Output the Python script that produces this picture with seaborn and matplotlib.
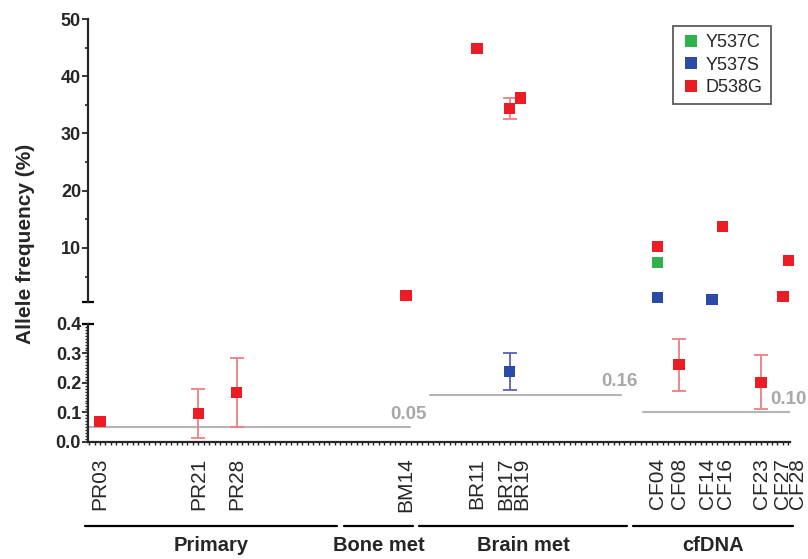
import numpy as np
import pandas as pd
import seaborn as sns
import matplotlib.pyplot as plt
import matplotlib.transforms as mtransforms

# sample labels and where each group starts on the x axis
samples = ["PR03", "PR21", "PR28", "BM14", "BR11", "BR17", "BR19",
           "CF04", "CF08", "CF14", "CF16", "CF23", "CF27", "CF28"]
sample_group = ["Primary", "Primary", "Primary", "Bone met", "Brain met", "Brain met", "Brain met",
                "cfDNA", "cfDNA", "cfDNA", "cfDNA", "cfDNA", "cfDNA", "cfDNA"]
group_names = ["Primary", "Bone met", "Brain met", "cfDNA"]
group_offset = [0, 45, 61, 101]
group_span = [(0.2, 46.4), (47.7, 60.3), (61.4, 99.5), (100.6, 129.9)]

# detection limits (value, x from, x to)
lod_value = [0.05, 0.16, 0.10]
lod_label = ["0.05", "0.16", "0.10"]
lod_from = [0.8, 63.4, 102.4]
lod_to = [59.8, 98.4, 129.3]

# measured points
pt_sample = ["PR03", "PR21", "PR28", "BM14", "BR11", "BR17", "BR19", "BR17",
             "CF04", "CF04", "CF04", "CF08", "CF14", "CF16", "CF23", "CF27", "CF28"]
pt_mut = ["D538G", "D538G", "D538G", "D538G", "D538G", "D538G", "D538G", "Y537S",
          "D538G", "Y537C", "Y537S", "D538G", "Y537S", "D538G", "D538G", "D538G", "D538G"]
pt_value = [0.068, 0.097, 0.167, 1.7, 44.9, 34.4, 36.2, 0.238,
            10.2, 7.5, 1.3, 0.263, 1.0, 13.8, 0.202, 1.55, 7.85]
pt_low = [np.nan, 0.012, 0.05, np.nan, np.nan, 32.6, np.nan, 0.176,
          np.nan, np.nan, np.nan, 0.173, np.nan, np.nan, 0.11, np.nan, np.nan]
pt_high = [np.nan, 0.18, 0.284, np.nan, np.nan, 36.2, np.nan, 0.303,
           np.nan, np.nan, np.nan, 0.349, np.nan, np.nan, 0.295, np.nan, np.nan]

mut_order = ["Y537C", "Y537S", "D538G"]
mut_colors = {"Y537C": "#2db34a", "Y537S": "#2b4aa6", "D538G": "#ec1c24"}
err_colors = {"Y537C": "#7ccf8c", "Y537S": "#5a5fb5", "D538G": "#ee7f83"}

sns.set_style("ticks")
plt.rcParams['font.family'] = ['Liberation Sans', 'DejaVu Sans']

offset_of = dict(zip(group_names, group_offset))
sample_pos = {s: offset_of[g] + int(s[2:]) for s, g in zip(samples, sample_group)}

df = pd.DataFrame({"sample": pt_sample, "mutation": pt_mut, "value": pt_value,
                   "low": pt_low, "high": pt_high})
df["pos"] = df["sample"].map(sample_pos)
df_top = df[df.value >= 0.5]
df_bot = df[df.value < 0.5]

fig = plt.figure(figsize=(8.08, 5.59), dpi=100)
ax_top = fig.add_axes([88 / 808, 1 - 302 / 559, 702 / 808, 283 / 559])
ax_bot = fig.add_axes([88 / 808, 1 - 441.7 / 559, 702 / 808, 117.7 / 559])

for ax, d in [(ax_top, df_top), (ax_bot, df_bot)]:
    e = d.dropna(subset=["low"])
    for _, r in e.iterrows():
        ax.errorbar(r.pos, r.value, yerr=[[r.value - r.low], [r.high - r.value]], fmt="none",
                    ecolor=err_colors[r.mutation], elinewidth=1.3, capsize=5, capthick=1.3, zorder=2)
    sns.scatterplot(data=d, x="pos", y="value", hue="mutation", hue_order=mut_order,
                    palette=mut_colors, marker="s", s=66, linewidth=0, ax=ax,
                    legend=(ax is ax_top), zorder=3, clip_on=False)

xmin, xmax = 0.8, 129.3
for ax in (ax_top, ax_bot):
    ax.set_xlim(xmin, xmax)
    ax.set_xlabel("")
    ax.set_ylabel("")
    sns.despine(ax=ax)
    for sp in ax.spines.values():
        sp.set_linewidth(1.6)

# top panel
ax_top.set_ylim(0.55, 50)
ax_top.spines["bottom"].set_visible(False)
ax_top.set_xticks([])
ax_top.set_yticks([10, 20, 30, 40, 50])
ax_top.set_yticks([5, 15, 25, 35, 45], minor=True)
ax_top.tick_params(axis="y", which="major", length=4, width=1.3, labelsize=13, pad=1)
ax_top.tick_params(axis="y", which="minor", length=2.5, width=1.2, left=True)
ax_top.plot(0, 0, marker="_", ms=8, mew=1.6, color="k", transform=ax_top.transAxes, clip_on=False)

# bottom panel
ax_bot.set_ylim(0, 0.4)
ax_bot.set_yticks([0.0, 0.1, 0.2, 0.3, 0.4])
ax_bot.set_yticklabels(["0.0", "0.1", "0.2", "0.3", "0.4"])
ax_bot.set_yticks(np.arange(0, 0.401, 0.01), minor=True)
ax_bot.tick_params(axis="y", which="major", length=4, width=1.3, labelsize=13, pad=1)
ax_bot.tick_params(axis="y", which="minor", length=2.5, width=1.0, left=True)
ax_bot.plot(0, 1, marker="_", ms=8, mew=1.6, color="k", transform=ax_bot.transAxes, clip_on=False)

for ax in (ax_top, ax_bot):
    for t in ax.get_yticklabels():
        t.set_fontweight("bold")

ax_bot.set_xticks([sample_pos[s] for s in samples])
ax_bot.set_xticklabels(samples, rotation=90, fontsize=15)
ax_bot.set_xticks(np.arange(1, 130), minor=True)
ax_bot.tick_params(axis="x", which="both", length=2.5, width=1.0, pad=9, bottom=True)
# crowded labels are spread apart a little, as in the figure
nudge_px = {"BR17": -4, "BR19": 1, "CF14": -4, "CF16": 3, "CF28": 9}
for lab in ax_bot.get_xticklabels():
    dx = nudge_px.get(lab.get_text(), 0)
    if dx:
        lab.set_transform(lab.get_transform() + mtransforms.ScaledTranslation(dx / 100, 0, fig.dpi_scale_trans))

# detection limits
for v, txt, x0, x1 in zip(lod_value, lod_label, lod_from, lod_to):
    ax_bot.plot([x0, x1], [v, v], color="#b5b5b5", lw=1.5, zorder=1)
    ax_bot.annotate(txt, xy=(x1, v), xytext=(12, 3), textcoords="offset points",
                    ha="right", va="bottom", color="#a8a8a8", fontsize=13.5, fontweight="bold",
                    annotation_clip=False)

# group brackets under the axis
trans = mtransforms.blended_transform_factory(ax_bot.transData, ax_bot.transAxes)
for name, (a, b) in zip(group_names, group_span):
    ax_bot.plot([a, b], [-0.716, -0.716], color="k", lw=1.6, transform=trans, clip_on=False)
    ax_bot.text((a + b) / 2, -0.885, name, transform=trans, ha="center", va="center",
                fontsize=14.5, fontweight="bold")

fig.text(0.032, 0.563, "Allele frequency (%)", rotation=90, ha="center", va="center",
         fontsize=15, fontweight="bold")

handles, labels = ax_top.get_legend_handles_labels()
ax_top.legend(handles, labels, loc="upper right", bbox_to_anchor=(771 / 808, 1 - 26 / 559),
              bbox_transform=fig.transFigure, borderaxespad=0, frameon=True, fancybox=False,
              edgecolor="#333333", fontsize=13, handletextpad=0.35, handlelength=1.0,
              labelspacing=0.3, borderpad=0.45, markerscale=1.0)
ax_top.get_legend().get_frame().set_linewidth(1.3)

fig.savefig("out.png", dpi=100)
